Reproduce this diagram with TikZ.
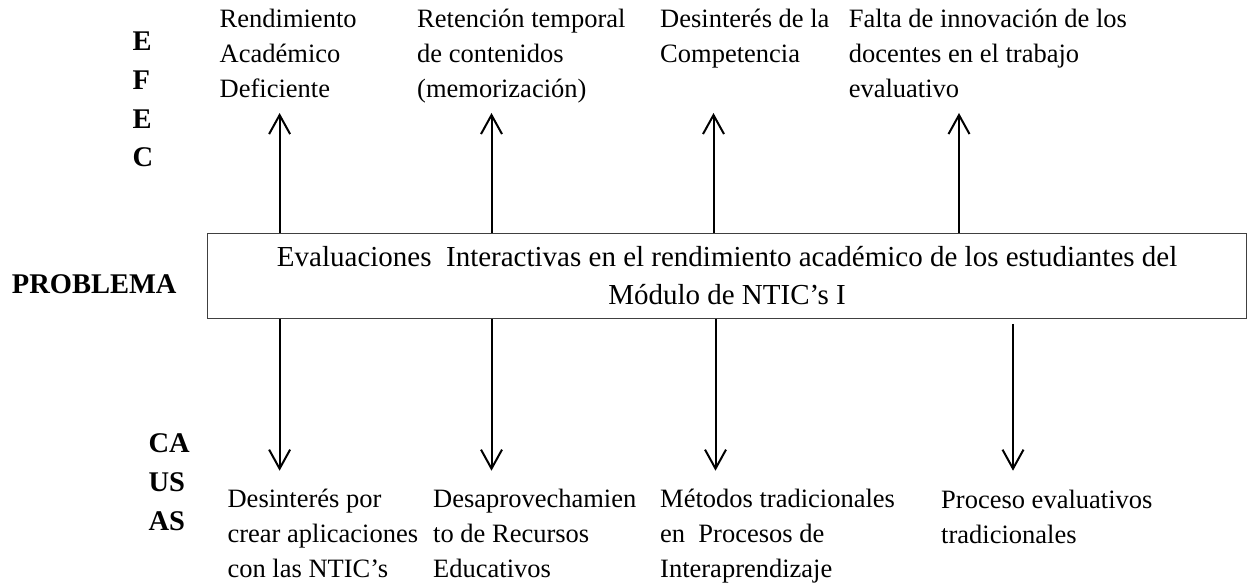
\documentclass[tikz,border=0pt]{standalone}
\usepackage{fontspec}
\setmainfont{Liberation Serif}
\usetikzlibrary{arrows.meta}

\begin{document}
\begin{tikzpicture}[x=1pt,y=-1pt]
	\tikzset{TextStyle/.style =
		{anchor = base west,
			align = left,
			inner sep = 0pt,
			font = \fontsize{26.5}{35}\selectfont},
		TagStyle/.style =
		{anchor = base west,
			align = left,
			inner sep = 0pt,
			font = \fontsize{28.5}{38.7}\selectfont\bfseries},
		BoxStyle/.style =
		{draw = black!75,
			line width = 1.3pt,
			minimum width = 1039pt,
			minimum height = 85pt,
			inner sep = 0pt,
			align = center,
			font = \fontsize{29}{38}\selectfont},
		ArrowStyle/.style =
		{line width = 2pt,
			-{Straight Barb[length=19pt,width=21pt]}}}
	\useasboundingbox (0,0) rectangle (1249,588);
	% problema (text nodes sit on the baseline of their last line)
	\node[BoxStyle] (P) at (727.1,275.8)
		{Evaluaciones\ \ Interactivas en el rendimiento académico de los estudiantes del\\Módulo de NTIC’s I};
	\node[TagStyle] (PR) at (11.7,293.3) {PROBLEMA};
	% efectos
	\node[TagStyle] (EF) at (132.5,167) {E\\F\\E\\C};
	\node[TextStyle] (E1) at (219.5,98) {Rendimiento\\Académico\\Deficiente};
	\node[TextStyle] (E2) at (417,98) {Retención temporal\\de contenidos\\(memorización)};
	\node[TextStyle] (E3) at (660,63) {Desinterés de la\\Competencia};
	\node[TextStyle] (E4) at (848.6,98) {Falta de innovación de los\\docentes en el trabajo\\evaluativo};
	% causas
	\node[TagStyle] (CA) at (148.3,530) {CA\\US\\AS};
	\node[TextStyle] (C1) at (227.4,577) {Desinterés por\\crear aplicaciones\\con las NTIC’s};
	\node[TextStyle] (C2) at (433,577) {Desaprovechamien\\to de Recursos\\Educativos};
	\node[TextStyle] (C3) at (660,577) {Métodos tradicionales\\en\ \ Procesos de\\Interaprendizaje};
	\node[TextStyle] (C4) at (941,543) {Proceso evaluativos\\tradicionales};
	\coordinate (e1) at (279.6,113); \coordinate (e2) at (491.5,113);
	\coordinate (e3) at (713.5,113); \coordinate (e4) at (959,113);
	\coordinate (c1) at (279.6,470.7); \coordinate (c2) at (491.5,470.7);
	\coordinate (c3) at (715.5,470.7); \coordinate (c4) at (1013,470.7);
	\draw[ArrowStyle] (P.north -| e1) -- (e1);
	\draw[ArrowStyle] (P.north -| e2) -- (e2);
	\draw[ArrowStyle] (P.north -| e3) -- (e3);
	\draw[ArrowStyle] (P.north -| e4) -- (e4);
	\draw[ArrowStyle] (P.south -| c1) -- (c1);
	\draw[ArrowStyle] (P.south -| c2) -- (c2);
	\draw[ArrowStyle] (P.south -| c3) -- (c3);
	\draw[ArrowStyle, shorten <= 5pt] (P.south -| c4) -- (c4);
\end{tikzpicture}
\end{document}
